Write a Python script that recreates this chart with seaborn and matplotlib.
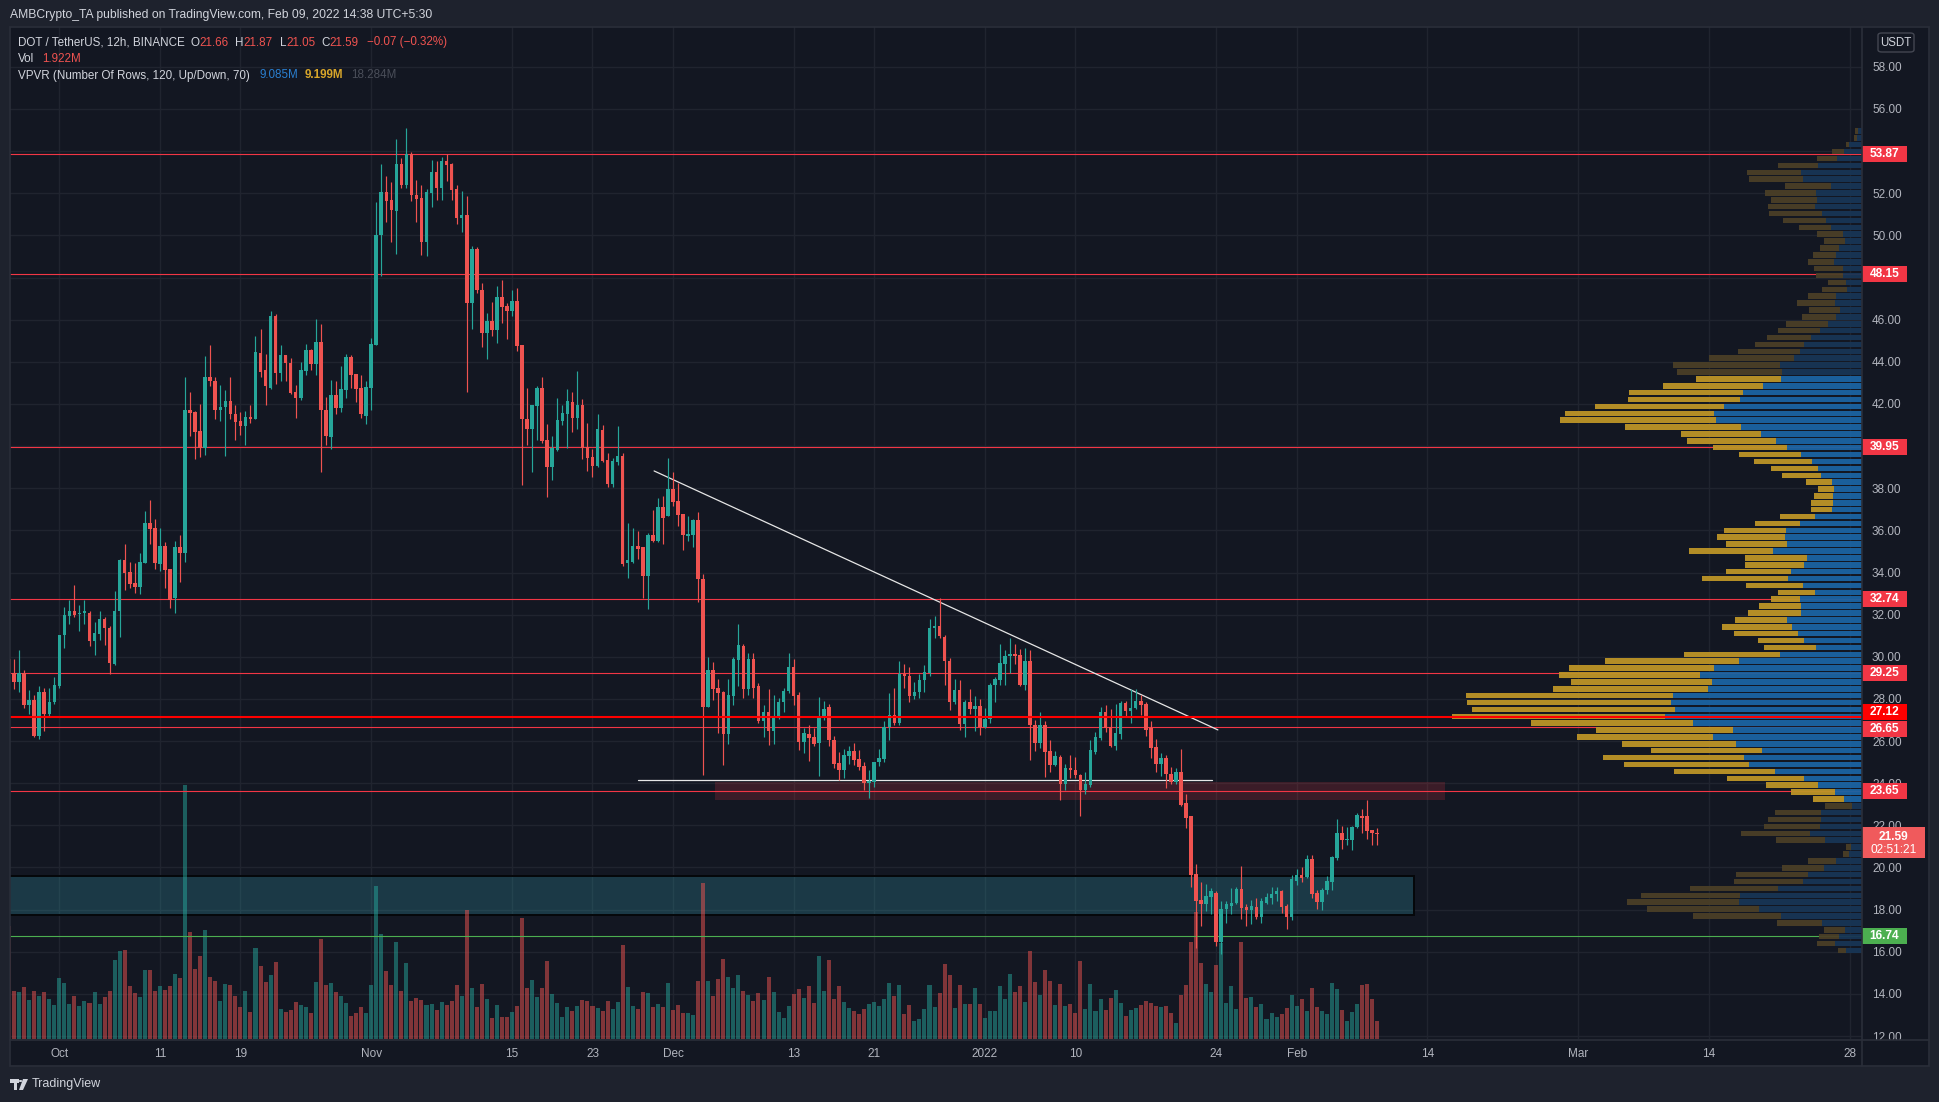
import numpy as np
import pandas as pd
import matplotlib
matplotlib.use("Agg")
import matplotlib.pyplot as plt
import seaborn as sns
from matplotlib.patches import Rectangle, FancyBboxPatch, Polygon, Circle
from matplotlib.lines import Line2D

# ---------------------------------------------------------------- data
first_candle = "2021-09-26 00:00"   # 12h candles
opens = [29.90,29.24,28.82,29.24,27.71,27.93,26.26,28.35,27.27,27.85,
28.60,31.02,31.93,32.16,32.02,32.07,32.10,30.77,31.10,31.77,
31.38,29.66,32.16,34.60,34.02,33.52,33.33,34.47,36.36,36.13,
34.38,35.24,34.16,32.77,35.19,34.91,41.72,41.64,40.72,39.89,
43.28,43.08,41.72,41.86,42.14,41.50,41.19,40.97,41.39,41.30,
44.42,43.61,42.78,46.17,43.47,44.33,43.94,42.58,42.30,43.56,
44.56,43.89,44.95,41.72,40.41,42.44,41.80,42.67,44.22,43.42,
42.78,41.44,42.78,44.81,50.01,52.06,51.67,51.14,53.37,52.37,
53.87,51.90,51.76,49.67,52.03,53.01,52.23,53.51,53.37,52.20,
50.84,50.95,46.78,49.34,47.42,45.39,45.95,45.50,47.09,46.64,
46.39,46.89,44.81,41.30,40.83,41.92,42.78,40.30,39.02,39.80,
41.19,41.53,42.11,41.33,41.97,39.94,39.50,39.05,40.78,39.33,
38.22,39.25,39.52,34.47,34.52,35.27,35.19,33.83,35.80,35.49,
37.13,36.66,37.97,37.41,36.80,35.74,35.77,36.47,33.69,27.63,
29.38,28.54,28.32,26.32,28.13,29.83,30.49,28.49,29.88,28.60,
26.93,27.40,26.46,27.15,27.85,28.38,29.52,28.18,25.96,26.35,
26.21,25.90,27.21,27.60,26.04,24.98,24.65,25.27,25.54,25.15,
24.82,23.99,24.04,24.99,25.15,26.65,27.24,26.88,29.16,29.10,
28.13,28.32,28.88,29.21,31.38,31.44,30.96,29.79,27.85,28.40,
26.82,27.85,27.52,27.66,26.65,27.04,28.66,28.88,29.66,30.05,
30.13,30.07,28.68,29.79,26.74,25.90,26.74,25.54,24.87,25.26,
23.96,24.71,24.65,24.37,23.68,23.90,25.49,26.13,27.38,26.68,
25.76,26.32,27.79,27.43,27.57,27.91,27.77,26.60,25.71,24.93,
25.21,24.46,24.04,24.51,23.07,22.43,19.70,18.45,18.26,18.59,
18.81,16.45,18.04,18.18,18.32,18.98,18.12,17.98,18.12,17.65,
18.32,18.54,18.73,18.90,18.18,17.65,19.37,19.65,19.57,20.40,
18.81,18.34,18.95,19.31,20.43,21.65,21.29,21.32,21.93,22.43,
22.43,21.79,21.66]
highs = [30.30,29.88,30.30,29.38,28.40,28.18,28.60,28.54,28.54,29.02,
31.02,32.35,32.71,33.41,32.44,32.71,32.16,31.66,32.16,31.88,
31.44,33.10,34.66,35.33,34.52,34.44,34.91,36.94,37.44,36.55,
36.13,35.44,34.19,35.49,35.77,43.28,42.58,41.67,42.00,44.28,
44.81,43.28,42.92,42.67,43.28,41.97,41.61,41.67,41.97,45.22,
45.56,44.36,46.42,46.28,44.81,44.33,44.17,42.92,44.00,44.86,
44.61,46.03,45.81,42.33,43.14,43.08,43.81,44.36,44.31,43.44,
43.39,43.08,45.14,51.59,53.37,52.81,52.53,54.56,53.68,55.12,
53.95,52.65,52.40,52.20,53.56,53.51,53.73,53.87,53.42,52.40,
52.09,51.87,49.50,49.45,47.73,46.34,46.84,47.59,47.89,46.78,
47.42,47.50,44.81,42.78,41.97,42.83,43.28,41.05,40.50,42.28,
41.97,42.72,42.58,43.56,42.22,41.11,39.86,41.50,41.00,39.66,
39.44,40.97,39.66,36.36,36.13,35.99,35.19,35.88,36.99,37.55,
37.61,39.44,38.77,38.27,36.80,36.66,36.55,36.88,33.91,29.99,
29.77,28.96,28.38,28.96,29.99,31.55,30.63,30.16,30.16,28.77,
27.71,28.46,28.18,28.04,28.54,30.16,29.88,28.32,26.60,26.74,
26.60,28.07,27.88,27.77,26.24,25.49,25.60,25.77,25.90,25.57,
25.01,24.65,25.01,25.63,26.93,28.27,28.54,29.82,29.66,29.52,
28.82,29.16,29.60,31.77,31.94,32.80,31.05,29.93,28.96,28.88,
27.93,28.46,28.13,27.99,27.57,28.77,29.02,30.63,30.33,30.91,
30.60,30.35,30.41,30.30,27.02,27.38,26.93,26.04,25.54,25.35,
24.93,25.35,25.26,24.43,24.51,26.04,26.43,27.63,27.71,27.52,
27.77,27.91,27.91,28.46,28.49,28.21,27.85,26.93,26.10,25.43,
25.35,24.79,24.73,25.62,23.49,22.43,20.15,19.31,19.23,19.04,
18.87,18.40,18.40,19.04,19.09,20.07,18.26,18.48,18.54,18.54,
18.81,19.09,19.09,18.95,18.26,19.65,19.93,20.01,20.59,20.59,
18.95,19.01,19.59,20.54,22.29,21.96,21.93,21.98,22.57,22.76,
23.21,21.79,21.87]
lows = [29.10,28.49,28.35,27.57,27.29,26.18,26.12,26.46,27.15,27.77,
28.54,30.43,31.55,31.88,31.24,31.55,30.49,30.07,30.82,30.57,
29.16,29.60,30.96,33.19,33.27,33.05,33.00,34.47,35.35,34.16,
34.05,33.27,32.30,32.10,33.55,34.52,40.50,39.39,39.50,39.58,
42.86,41.28,41.17,39.55,41.28,40.30,40.53,40.03,41.11,41.30,
43.28,41.94,42.72,42.94,43.08,43.08,42.47,41.33,42.17,43.36,
43.61,43.36,38.77,40.05,39.86,41.53,41.61,42.28,42.78,42.11,
41.33,41.05,41.72,44.81,48.06,50.62,49.67,49.12,52.23,52.26,
51.62,50.62,49.06,49.03,51.34,51.67,51.67,52.56,51.67,50.56,
50.15,42.55,45.56,47.25,44.70,44.11,45.22,44.89,45.84,45.06,
46.17,44.53,38.14,40.05,38.77,40.28,40.16,37.58,38.41,39.75,
41.00,39.89,40.69,40.83,39.39,38.83,38.55,39.00,39.25,38.08,
38.08,39.11,34.30,33.72,34.47,34.66,32.80,32.27,35.44,35.44,
35.35,36.66,37.16,36.19,35.08,35.49,35.22,32.58,24.37,27.63,
27.93,26.40,24.85,25.88,27.71,28.60,28.04,28.21,28.04,26.88,
26.18,25.82,25.88,27.07,27.38,28.27,27.71,25.57,25.43,25.07,
25.77,24.32,27.02,25.77,24.73,24.15,24.24,24.93,24.88,24.65,
23.68,23.32,23.82,24.82,25.01,26.04,26.74,26.74,28.54,27.85,
27.99,28.04,28.32,29.10,30.91,30.91,28.68,27.49,27.77,26.54,
26.21,27.27,26.46,26.29,26.60,26.88,27.85,28.68,28.68,29.21,
29.66,28.60,28.40,25.12,25.54,25.68,24.29,24.51,24.82,23.18,
23.68,24.24,24.24,22.43,23.49,23.82,25.40,26.04,26.43,25.71,
25.57,26.10,27.15,26.88,27.52,27.24,26.26,25.21,24.51,24.32,
23.76,23.96,23.96,22.93,21.87,19.09,16.17,17.20,17.93,17.79,
16.26,15.90,17.37,17.79,18.26,17.54,17.20,17.34,17.57,17.37,
18.26,18.26,18.40,17.84,17.09,17.51,19.18,19.31,19.51,18.54,
18.04,17.98,18.76,18.95,20.35,20.90,21.09,20.82,21.87,21.65,
21.37,21.09,21.05]
closes = [29.24,28.82,29.24,27.71,27.93,26.26,28.35,27.27,27.85,28.66,
31.02,31.96,32.16,31.99,32.10,32.16,30.77,31.13,31.77,31.38,
29.71,32.16,34.60,33.96,33.46,33.33,34.52,36.36,36.08,34.44,
35.24,34.10,32.71,35.19,34.91,41.72,41.58,40.69,39.89,43.28,
43.08,41.72,41.86,42.14,41.50,41.14,40.97,41.39,41.28,44.47,
43.53,42.83,46.17,43.47,44.33,43.94,42.53,42.30,43.61,44.56,
43.89,44.95,41.69,40.47,42.44,41.80,42.72,44.22,43.39,42.72,
41.50,42.80,44.86,50.01,52.06,51.62,51.20,53.37,52.40,53.87,
51.90,51.73,49.67,52.06,53.01,52.23,53.51,53.34,52.17,50.84,
50.95,46.78,49.34,47.42,45.39,45.95,45.50,47.09,46.61,46.39,
46.89,44.75,41.28,40.83,41.97,42.78,40.22,39.02,39.89,41.22,
41.58,42.14,41.33,41.97,39.89,39.44,39.05,40.83,39.30,38.22,
39.30,39.52,34.38,34.58,35.27,35.13,33.83,35.80,35.49,37.13,
36.61,37.97,37.36,36.75,35.77,35.83,36.49,33.69,27.63,29.38,
28.49,28.27,26.32,28.18,29.91,30.55,28.49,29.88,28.54,26.93,
27.40,26.46,27.15,27.85,28.38,29.52,28.13,25.96,26.38,26.13,
25.88,27.21,27.54,26.04,24.93,24.65,25.32,25.54,25.10,24.76,
23.99,24.10,24.99,25.21,26.68,27.24,26.88,29.16,29.10,28.13,
28.35,28.88,29.27,31.38,31.44,31.00,29.79,27.85,28.40,26.82,
27.85,27.52,27.66,26.65,27.07,28.66,28.93,29.71,30.05,30.13,
30.05,28.68,29.82,26.74,25.90,26.74,25.49,24.87,25.29,23.96,
24.71,24.65,24.37,23.68,23.96,25.57,26.18,27.38,26.60,25.76,
26.38,27.79,27.43,27.57,27.91,27.71,26.51,25.68,24.93,25.21,
24.43,24.04,24.51,22.98,22.34,19.65,18.40,18.26,18.65,18.87,
16.45,18.04,18.26,18.32,18.98,18.07,17.98,18.18,17.65,18.40,
18.59,18.73,18.90,18.12,17.65,19.43,19.65,19.51,20.40,18.73,
18.34,18.95,19.37,20.48,21.65,21.32,21.37,21.93,22.48,22.37,
21.73,21.65,21.59]
# volume per candle (relative units, ~0.062M each)
volume = [193,82,80,89,66,82,74,80,68,58,
104,95,60,74,56,65,61,80,60,72,
82,135,150,152,90,78,72,118,118,82,
90,84,90,111,104,433,182,119,141,186,
106,99,65,94,92,73,55,82,46,155,
124,97,109,131,51,46,49,63,58,55,
44,97,170,92,95,80,73,61,39,44,
55,44,92,261,179,116,92,165,82,130,
65,70,66,58,60,49,63,58,65,92,
73,220,87,55,94,68,36,58,37,37,
46,56,206,87,101,72,87,133,77,61,
37,55,48,56,66,65,56,53,48,65,
51,63,160,89,56,51,80,78,55,60,
55,95,49,58,44,44,41,99,266,99,
73,102,136,106,87,109,82,75,65,78,
66,106,80,46,36,56,77,85,70,90,
61,141,82,135,68,90,63,53,48,43,
51,60,63,56,68,95,73,92,43,58,
31,34,51,92,55,78,128,109,53,92,
60,60,87,60,36,48,48,90,68,111,
80,90,63,150,97,75,118,99,58,94,
56,60,44,133,51,94,48,68,49,70,
84,61,39,49,53,58,65,61,56,55,
56,44,27,75,92,165,216,130,94,80,
126,163,61,90,51,165,70,72,55,60,
34,44,37,43,53,75,56,68,48,87,
55,48,43,95,85,49,31,46,60,92,
94,68,31]

# visible-range volume profile, 120 rows, top row first (relative units)
vp_up = [3.7,4.7,12.7,18,24.7,44,61,59,31,46,
45,47,40,36,31,19,17,23,26,28,
19,19,16,15,26,27,22,26,34,42,
51,58,62,68,82,80,81,99,119,122,
138,148,146,121,101,86,75,61,50,44,
41,30,28,29,29,30,47,62,76,77,
75,89,55,58,71,74,59,47,62,61,
61,75,70,64,58,46,82,123,148,162,
150,154,189,191,187,197,169,129,149,126,
100,118,113,87,58,44,27,18,10,41,
41,42,52,37,11,13,26,38,54,59,
84,122,123,103,81,40,17,23,27,16]
vp_down = [3,3,3,12,20.3,40,54,54,46,51,
46,47,53,43,32,26,21,19,23,26,
29,27,18,25,28,38,31,34,42,42,
44,49,62,85,107,105,85,100,114,112,
129,149,156,116,80,89,74,62,58,47,
39,26,16,19,22,21,35,45,62,68,
61,84,62,59,65,86,57,37,29,42,
53,52,70,64,46,52,96,134,145,141,
141,155,207,204,203,213,162,137,136,114,
111,141,125,101,77,52,44,31,27,46,
53,56,69,49,5,6,28,42,72,69,
88,99,112,112,88,45,21,20,18,8]
va_high, va_low = 43.3, 23.0

red_levels = [53.87, 48.15, 39.95, 32.74, 29.25, 26.65, 23.65]
key_level = 27.12
support_level = 16.74
last_price = 21.59
countdown = "02:51:21"

trend_dates = ["2021-11-29 03:00", "2022-01-24 04:00"]
trend_prices = [38.82, 26.53]
neck_dates = ["2021-11-27 12:00", "2022-01-23 14:00"]
neck_price = 24.17
supply_zone = ("2021-12-05 05:00", "2022-02-15 19:00", 23.22, 24.05)
demand_zone = ("2021-09-20 00:00", "2022-02-12 17:00", 17.73, 19.60)

tick_dates = ["2021-10-01", "2021-10-11", "2021-10-19", "2021-11-01", "2021-11-15",
              "2021-11-23", "2021-12-01", "2021-12-13", "2021-12-21", "2022-01-01",
              "2022-01-10", "2022-01-24", "2022-02-01", "2022-02-14", "2022-03-01",
              "2022-03-14", "2022-03-28"]
tick_labels = ["Oct", "11", "19", "Nov", "15", "23", "Dec", "13", "21", "2022",
               "10", "24", "Feb", "14", "Mar", "14", "28"]
price_ticks = list(range(12, 60, 2))
x_range = ("2021-09-26 02:20", "2022-03-29 04:40")
y_range = (11.86, 59.89)

# ---------------------------------------------------------------- style
W, H = 1940, 1102
BG = "#131722"
OUTER = "#1e222d"
BORDER = "#2a2e39"
GRID = "#20242f"
TXT = "#b2b5be"
LIGHT = "#d1d4dc"
UP = "#26a69a"
DOWN = "#ef5350"
LVL = "#f23645"
PX_PER_PRICE = 21.07
# label collision shifts (pixels, positive = down) as TradingView spreads them
label_shift = {27.12: -5.0, 26.65: 2.0}

sns.set_theme(style="dark", rc={"axes.facecolor": BG, "figure.facecolor": OUTER})
plt.rcParams["font.family"] = ["Liberation Sans", "DejaVu Sans"]

ORIGIN = pd.Timestamp("2021-10-01")


def days(ts):
    return ((pd.to_datetime(ts) - ORIGIN) / pd.Timedelta(days=1))


o = np.array(opens); h = np.array(highs); l = np.array(lows); c = np.array(closes)
vol = np.array(volume, dtype=float)
t = np.asarray(days(pd.date_range(first_candle, periods=len(c), freq="12h")), dtype=float)
is_up = c >= o

fig = plt.figure(figsize=(W / 100, H / 100), dpi=100)
fig.patch.set_facecolor(OUTER)


def fr(x0, y0, x1, y1):
    return [x0 / W, 1 - y1 / H, (x1 - x0) / W, (y1 - y0) / H]


def fx(x):
    return x / W


def fy(y):
    return 1 - y / H


fig.add_artist(Rectangle((fx(10), fy(1066)), (1929 - 10) / W, (1066 - 27) / H,
                         transform=fig.transFigure, facecolor=BG, edgecolor="none", zorder=-5))

rect = fr(10, 27, 1862, 1039)
ax_bg = fig.add_axes(rect, label="bg")
axv = fig.add_axes(rect, sharex=ax_bg, label="vol")
ax = fig.add_axes(rect, sharex=ax_bg, sharey=ax_bg, label="main")
ax_vp = fig.add_axes(rect, sharey=ax_bg, label="vpvr")
ax_bg.set_zorder(0); axv.set_zorder(1); ax.set_zorder(2); ax_vp.set_zorder(3)
for a in (axv, ax, ax_vp):
    a.patch.set_visible(False)
ax_bg.set_facecolor(BG)

ax_bg.set_xlim(days(x_range[0]), days(x_range[1]))
ax_bg.set_ylim(*y_range)
ax_bg.set_xticks(days(tick_dates))
ax_bg.set_yticks(price_ticks)
ax_bg.grid(True, color=GRID, lw=1.0)
ax_bg.tick_params(labelbottom=False, labelleft=False, length=0)
for a in (ax_bg, axv, ax, ax_vp):
    for s in a.spines.values():
        s.set_visible(False)

# zones under volume
x0z, x1z, p0z, p1z = demand_zone
ax_bg.add_patch(Rectangle((days(x0z), p0z), days(x1z) - days(x0z), p1z - p0z,
                          facecolor="#2e8b9a", alpha=0.30, edgecolor="none", zorder=1))
ax_bg.add_patch(Rectangle((days(x0z), p0z), days(x1z) - days(x0z), p1z - p0z,
                          facecolor="none", edgecolor="#05070a", lw=1.4, zorder=1.1))
x0s, x1s, p0s, p1s = supply_zone
ax_bg.add_patch(Rectangle((days(x0s), p0s), days(x1s) - days(x0s), p1s - p0s,
                          facecolor=LVL, alpha=0.18, edgecolor="none", zorder=1))

# volume
vcol = np.where(is_up, UP, DOWN)
axv.bar(t, vol, width=0.40, color=vcol, alpha=0.5, linewidth=0)
axv.set_ylim(0, vol.max() / 0.251)
axv.tick_params(left=False, right=False, bottom=False, labelleft=False, labelbottom=False)
axv.grid(False)

# horizontal levels
for p in red_levels:
    ax.axhline(p, color=LVL, lw=0.8, zorder=1)
ax.axhline(support_level, color="#4caf50", lw=0.8, zorder=1)

# drawings
ax.plot(days(trend_dates), trend_prices, color="#e6e6e6", lw=0.9, zorder=3)
ax.plot(days(neck_dates), [neck_price, neck_price], color="#e6e6e6", lw=0.9, zorder=3)

# candles
ccol = np.where(is_up, UP, DOWN)
ax.vlines(t, l, h, colors=ccol, lw=0.85, zorder=4)
body_lo = np.minimum(o, c)
body_h = np.maximum(np.abs(c - o), 0.06)
ax.bar(t, body_h, bottom=body_lo, width=0.35, color=ccol, linewidth=0, zorder=5)

# axis ticks; TradingView hides scale labels sitting under a level label
box_levels = red_levels + [key_level, support_level]
shown = []
for p in price_ticks:
    hidden = any(abs(p - (q - label_shift.get(q, 0.0) / PX_PER_PRICE)) < 0.3 for q in box_levels)
    shown.append("" if hidden else f"{p:.2f}")
ax.yaxis.tick_right()
ax.set_yticks(price_ticks)
ax.set_yticklabels(shown)
ax.set_xticks(days(tick_dates))
ax.set_xticklabels(tick_labels)
ax.tick_params(axis="y", length=0, pad=7.2, labelsize=8.5, colors=TXT, labelright=True, labelleft=False)
ax.tick_params(axis="x", length=0, pad=6.5, labelsize=8.5, colors=TXT)
ax.grid(False)

# volume profile (anchored to right edge)
vp_up_a = np.array(vp_up, dtype=float)
vp_dn_a = np.array(vp_down, dtype=float)
lo_p, hi_p = l.min(), h.max()
step = (hi_p - lo_p) / len(vp_up_a)
centers = np.linspace(hi_p - step / 2, lo_p + step / 2, len(vp_up_a))
in_va = (centers >= va_low) & (centers <= va_high)
up_col = np.where(in_va, "#1b64a3", "#183555")
dn_col = np.where(in_va, "#bd9427", "#4a3f27")
ax_vp.barh(centers, vp_up_a, left=0, height=step * 0.80, color=up_col, linewidth=0, alpha=0.95)
ax_vp.barh(centers, vp_dn_a, left=vp_up_a, height=step * 0.80, color=dn_col, linewidth=0, alpha=0.95)
ax_vp.set_xlim((vp_up_a + vp_dn_a).max() / (410 / 1852), 0)
ax_vp.axhline(key_level, color="#ff0000", lw=1.5, zorder=5)
ax_vp.grid(False)
ax_vp.tick_params(left=False, right=False, bottom=False, top=False,
                  labelleft=False, labelright=False, labelbottom=False)

# price labels on the axis
ytr = ax.get_yaxis_transform()
bw, bh = 45 / 1852, 16 / PX_PER_PRICE


def price_box(p, color, width=bw):
    pc = p - label_shift.get(p, 0.0) / PX_PER_PRICE
    ax.add_patch(Rectangle((1.0, pc - bh / 2), width, bh, transform=ytr, facecolor=color,
                           edgecolor="none", clip_on=False, zorder=6))
    ax.text(1.0 + width / 2, pc, f"{p:.2f}", transform=ytr, ha="center", va="center",
            color="white", fontsize=8.6, fontweight="bold", clip_on=False, zorder=7)


for p in red_levels:
    price_box(p, LVL)
price_box(key_level, "#ff0000")
price_box(support_level, "#4caf50")
top_p = last_price + 6.5 / PX_PER_PRICE
ax.add_patch(Rectangle((1.0, top_p - 31 / PX_PER_PRICE), 63 / 1852, 31 / PX_PER_PRICE, transform=ytr,
                       facecolor="#f05a5c", edgecolor="none", clip_on=False, zorder=6))
ax.text(1.0 + 31.5 / 1852, top_p - 9.5 / PX_PER_PRICE, f"{last_price:.2f}", transform=ytr, ha="center",
        va="center", color="white", fontsize=8.6, fontweight="bold", clip_on=False, zorder=7)
ax.text(1.0 + 31.5 / 1852, top_p - 23 / PX_PER_PRICE, countdown, transform=ytr, ha="center",
        va="center", color="white", fontsize=8.6, clip_on=False, zorder=7)

# cover under price axis (clips "12.00") and separators
fig.add_artist(Rectangle((fx(1863), fy(1065)), (1928 - 1863) / W, (1065 - 1040) / H,
                         transform=fig.transFigure, facecolor=BG, edgecolor="none", zorder=10))
fig.add_artist(Line2D([fx(10), fx(1929)], [fy(1039.5), fy(1039.5)], transform=fig.transFigure,
                      color=BORDER, lw=1.2, zorder=11))
fig.add_artist(Line2D([fx(1862.5), fx(1862.5)], [fy(27), fy(1066)], transform=fig.transFigure,
                      color=BORDER, lw=1.2, zorder=11))
fig.add_artist(Rectangle((fx(10), fy(1066)), (1929 - 10) / W, (1066 - 27) / H,
                         transform=fig.transFigure, facecolor="none", edgecolor=BORDER,
                         lw=1.2, zorder=11))

# USDT badge
fig.add_artist(FancyBboxPatch((fx(1878), fy(52)), (1914 - 1878) / W, (52 - 33) / H,
                              boxstyle="round,pad=0,rounding_size=0.002",
                              transform=fig.transFigure, facecolor=BG, edgecolor="#434651",
                              lw=1.0, zorder=12))
fig.text(fx(1896), fy(42.5), "USDT", ha="center", va="center", color=LIGHT, fontsize=8.3, zorder=13)

# header texts
renderer = fig.canvas.get_renderer()


def run(x, y, pieces, size=8.4, weight="normal"):
    for s, col in pieces:
        tx = fig.text(fx(x), fy(y), s, color=col, fontsize=size, ha="left", va="center",
                      zorder=13, fontweight=weight)
        x += tx.get_window_extent(renderer).width
    return x


fig.text(fx(10), fy(15), "AMBCrypto_TA published on TradingView.com, Feb 09, 2022 14:38 UTC+5:30",
         color=LIGHT, fontsize=8.7, ha="left", va="center")
run(18, 42.5, [("DOT / TetherUS, 12h, BINANCE", LIGHT)])
run(190.6, 42.5, [("O", LIGHT), (f"{opens[-1]:.2f}", DOWN)])
run(235, 42.5, [("H", LIGHT), (f"{highs[-1]:.2f}", DOWN)])
run(280, 42.5, [("L", LIGHT), (f"{lows[-1]:.2f}", DOWN)])
run(321, 42.5, [("C", LIGHT), (f"{closes[-1]:.2f}", DOWN)])
run(367, 42.5, [("\u22120.07 (\u22120.32%)", DOWN)])
run(18, 59, [("Vol", LIGHT)])
run(42.4, 59, [("1.922M", DOWN)])
run(18, 75.5, [("VPVR (Number Of Rows, 120, Up/Down, 70)", LIGHT)])
run(260, 75.5, [("9.085M", "#2a7fd0")])
run(305, 75.5, [("9.199M", "#d8a62a")], weight="bold")
run(351, 75.5, [("18.284M", "#4a4e59")])

# TradingView logo + wordmark
LOGO = "#d1d4dc"
fig.add_artist(Rectangle((fx(10), fy(1082.5)), 9 / W, 3.5 / H, transform=fig.transFigure,
                         facecolor=LOGO, edgecolor="none"))
fig.add_artist(Rectangle((fx(13.5), fy(1090)), 3.5 / W, 8 / H, transform=fig.transFigure,
                         facecolor=LOGO, edgecolor="none"))
fig.add_artist(Circle((fx(20.5), fy(1081)), 1.8 / W, transform=fig.transFigure,
                      facecolor=LOGO, edgecolor="none"))
fig.add_artist(Polygon([(fx(23), fy(1079)), (fx(28), fy(1079)), (fx(23), fy(1090)), (fx(19), fy(1090))],
                       closed=True, transform=fig.transFigure, facecolor=LOGO, edgecolor="none"))
fig.text(fx(32), fy(1084), "TradingView", color=LOGO, fontsize=9, ha="left", va="center")

fig.savefig("out.png", dpi=100, facecolor=OUTER)
